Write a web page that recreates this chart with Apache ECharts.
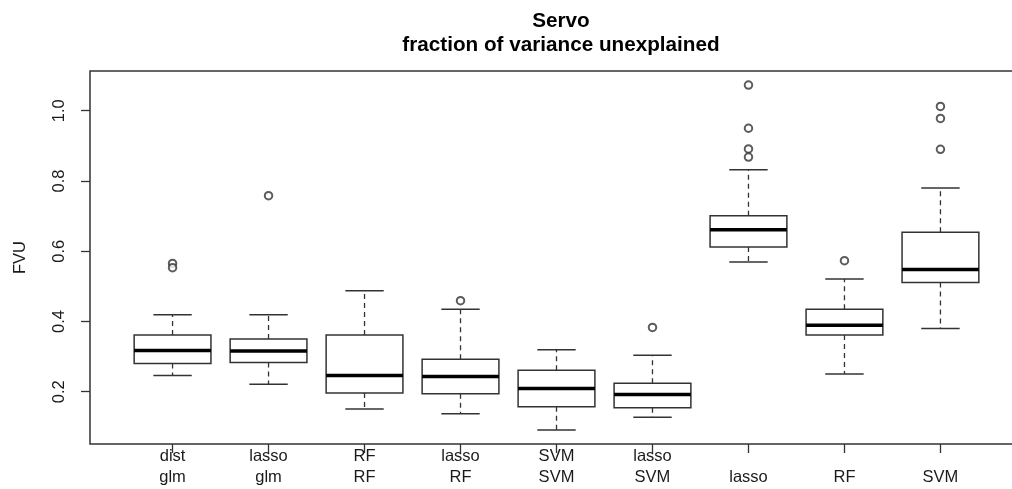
<!DOCTYPE html>
<html>
<head>
<meta charset="utf-8">
<script src="https://cdn.jsdelivr.net/npm/echarts@6/dist/echarts.min.js"></script>
<style>
  html, body { margin: 0; padding: 0; background: #ffffff; }
  #chart { width: 1012px; height: 489px; }
</style>
</head>
<body>
<div id="chart"></div>
<script>
// Model labels (two-line labels are method / model pairs)
const categories = ['dist\nglm', 'lasso\nglm', 'RF\nRF', 'lasso\nRF', 'SVM\nSVM', 'lasso\nSVM', 'lasso', 'RF', 'SVM'];

// Five-number summaries of FVU per model
const lowerWhisker = [0.246, 0.221, 0.151, 0.137, 0.091, 0.127, 0.569, 0.250, 0.380];
const q1           = [0.280, 0.283, 0.196, 0.194, 0.157, 0.154, 0.612, 0.361, 0.511];
const median       = [0.317, 0.316, 0.246, 0.243, 0.209, 0.192, 0.661, 0.389, 0.548];
const q3           = [0.361, 0.350, 0.361, 0.292, 0.261, 0.224, 0.701, 0.435, 0.654];
const upperWhisker = [0.419, 0.419, 0.487, 0.435, 0.319, 0.304, 0.832, 0.521, 0.780];

// Outlying points: [model position (1-based), FVU]
const outliers = [
  [1, 0.565], [1, 0.553],
  [2, 0.758],
  [4, 0.459],
  [6, 0.383],
  [7, 1.073], [7, 0.950], [7, 0.891], [7, 0.868],
  [8, 0.573],
  [9, 1.012], [9, 0.978], [9, 0.890]
];

const yTicks = [0.2, 0.4, 0.6, 0.8, 1.0];
const xTicks = categories.map((c, i) => i + 1);

const boxData = categories.map((c, i) => [i + 1, lowerWhisker[i], q1[i], median[i], q3[i], upperWhisker[i]]);

const ink = '#333333';
const textColor = '#1a1a1a';
const fontFamily = 'Liberation Sans, Arial, sans-serif';

function renderBox(params, api) {
  const x = api.value(0);
  const pLo = api.coord([x, api.value(1)]);
  const pQ1 = api.coord([x, api.value(2)]);
  const pMed = api.coord([x, api.value(3)]);
  const pQ3 = api.coord([x, api.value(4)]);
  const pHi = api.coord([x, api.value(5)]);
  const half = api.size([0.4, 0])[0];
  const capHalf = api.size([0.2, 0])[0];
  const cx = pMed[0];
  const dashed = { stroke: ink, lineWidth: 1.3, lineDash: [5, 4], fill: null };
  const solid = { stroke: ink, lineWidth: 1.5, fill: null };
  return {
    type: 'group',
    children: [
      { type: 'line', shape: { x1: cx, y1: pQ3[1], x2: cx, y2: pHi[1] }, style: dashed },
      { type: 'line', shape: { x1: cx, y1: pQ1[1], x2: cx, y2: pLo[1] }, style: dashed },
      { type: 'line', shape: { x1: cx - capHalf, y1: pHi[1], x2: cx + capHalf, y2: pHi[1] }, style: solid },
      { type: 'line', shape: { x1: cx - capHalf, y1: pLo[1], x2: cx + capHalf, y2: pLo[1] }, style: solid },
      { type: 'rect', shape: { x: cx - half, y: pQ3[1], width: half * 2, height: pQ1[1] - pQ3[1] },
        style: { stroke: ink, lineWidth: 1.5, fill: '#ffffff' } },
      { type: 'line', shape: { x1: cx - half, y1: pMed[1], x2: cx + half, y2: pMed[1] },
        style: { stroke: '#000000', lineWidth: 3.6 } }
    ]
  };
}

const chart = echarts.init(document.getElementById('chart'), null, { renderer: 'canvas' });

chart.setOption({
  animation: false,
  backgroundColor: '#ffffff',
  title: {
    text: 'Servo\nfraction of variance unexplained',
    left: 556,
    top: 4,
    textAlign: 'center',
    textStyle: {
      fontFamily: fontFamily,
      fontSize: 20.7,
      fontWeight: 'bold',
      color: '#000000',
      lineHeight: 24
    }
  },
  grid: {
    left: 90,
    right: -11,
    top: 71,
    bottom: 45,
    show: true,
    borderColor: ink,
    borderWidth: 1.5,
    backgroundColor: 'transparent',
    outerBoundsMode: 'none'
  },
  xAxis: {
    type: 'value',
    min: 0.14,
    max: 9.86,
    splitLine: { show: false },
    axisLine: { show: false },
    axisTick: {
      show: true,
      customValues: xTicks,
      length: 9,
      lineStyle: { color: ink, width: 1.3 }
    },
    axisLabel: {
      customValues: xTicks,
      formatter: v => categories[Math.round(v) - 1] || '',
      fontFamily: fontFamily,
      fontSize: 16.5,
      lineHeight: 21,
      color: textColor,
      verticalAlign: 'bottom',
      margin: 44
    }
  },
  yAxis: {
    type: 'value',
    min: 0.051,
    max: 1.113,
    name: 'FVU',
    nameLocation: 'middle',
    nameGap: 61,
    nameRotate: 90,
    nameTextStyle: { fontFamily: fontFamily, fontSize: 16.5, color: textColor },
    splitLine: { show: false },
    axisLine: { show: false },
    axisTick: {
      show: true,
      customValues: yTicks,
      length: 9,
      lineStyle: { color: ink, width: 1.3 }
    },
    axisLabel: {
      customValues: yTicks,
      formatter: v => v.toFixed(1),
      rotate: 90,
      align: 'center',
      verticalAlign: 'bottom',
      fontFamily: fontFamily,
      fontSize: 16.5,
      color: textColor,
      margin: 22
    }
  },
  series: [
    {
      type: 'custom',
      name: 'FVU',
      renderItem: renderBox,
      encode: { x: 0, y: [1, 2, 3, 4, 5] },
      data: boxData,
      z: 2
    },
    {
      type: 'scatter',
      name: 'outliers',
      data: outliers,
      symbol: 'emptyCircle',
      symbolSize: 7.5,
      itemStyle: { color: ink, borderColor: ink, borderWidth: 1 },
      z: 3
    }
  ]
});
</script>
</body>
</html>
